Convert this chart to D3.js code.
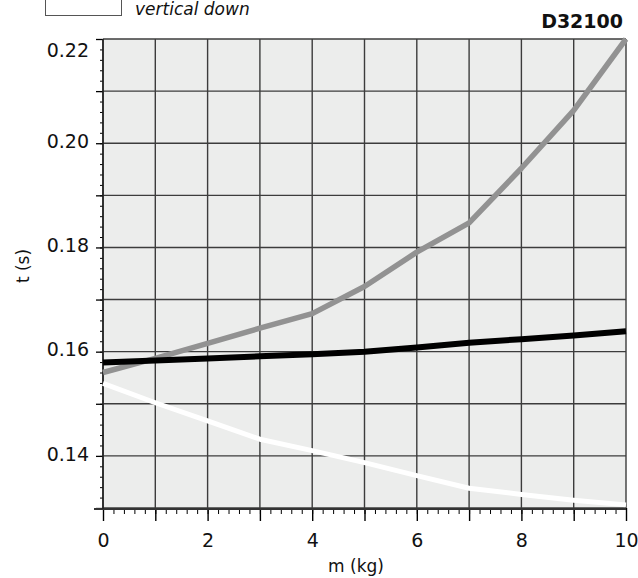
<!DOCTYPE html>
<html>
<head>
<meta charset="utf-8">
<script src="https://cdn.jsdelivr.net/npm/d3@7"></script>
<style>
	body { margin: 0; background: #fff; }
	svg { display: block; font-family: "DejaVu Sans", sans-serif; }
</style>
</head>
<body>
<svg id="chart"></svg>
<script>
// m (kg) at each reading
const masses = [0, 1, 2, 3, 4, 5, 6, 7, 8, 9, 10];

// t (s) for the three curves
const tGray  = [0.1560, 0.1587, 0.1616, 0.1645, 0.1673, 0.1725, 0.1791, 0.1847, 0.1952, 0.2063, 0.2200];
const tBlack = [0.1579, 0.1583, 0.1587, 0.1591, 0.1595, 0.1600, 0.1608, 0.1617, 0.1624, 0.1631, 0.1639];
const tWhite = [0.1539, 0.1502, 0.1467, 0.1432, 0.1410, 0.1387, 0.1362, 0.1338, 0.1326, 0.1315, 0.1306];

const xLabels = [0, 2, 4, 6, 8, 10];
const yLabels = [0.14, 0.16, 0.18, 0.20, 0.22];

const legendText = "vertical down";
const chartCode = "D32100";

class LineChart {
	constructor(_config) {
		this.config = {
			parentElement: _config.parentElement,
			containerWidth: _config.containerWidth || 638,
			containerHeight: _config.containerHeight || 578,
			margin: {top: 39, bottom: 70, right: 12, left: 103}
		}
		this.initVis();
	}

	initVis() {
		let vis = this;

		vis.width = vis.config.containerWidth - vis.config.margin.left - vis.config.margin.right;
		vis.height = vis.config.containerHeight - vis.config.margin.top - vis.config.margin.bottom;

		vis.svg = d3.select(vis.config.parentElement)
			.attr("width", vis.config.containerWidth)
			.attr("height", vis.config.containerHeight);

		vis.chart = vis.svg.append("g")
			.attr("transform", `translate(${vis.config.margin.left},${vis.config.margin.top})`);

		vis.x = d3.scaleLinear().domain([0, 10]).range([0, vis.width]);
		vis.y = d3.scaleLinear().domain([0.13, 0.22]).range([vis.height, 0]);

		vis.updateVis();
	}

	updateVis() {
		let vis = this;

		// plot background
		vis.chart.append("rect")
			.attr("width", vis.width)
			.attr("height", vis.height)
			.attr("fill", "#ecedec");

		// grid
		let grid = vis.chart.append("g")
			.attr("stroke", "#3c3c3c")
			.attr("stroke-width", 1.4);

		grid.selectAll(".vgrid")
			.data(d3.range(0, 11))
			.join("line")
			.attr("x1", d => vis.x(d))
			.attr("x2", d => vis.x(d))
			.attr("y1", 0)
			.attr("y2", vis.height);

		grid.selectAll(".hgrid")
			.data(d3.range(13, 23).map(d => d / 100))
			.join("line")
			.attr("x1", 0)
			.attr("x2", vis.width)
			.attr("y1", d => vis.y(d))
			.attr("y2", d => vis.y(d));

		// y axis: major ticks every 0.01, minor every 0.002
		let yAxis = vis.chart.append("g")
			.call(d3.axisLeft(vis.y)
				.tickValues(d3.range(65, 111).map(d => d / 500))
				.tickSize(3)
				.tickFormat(""));
		yAxis.select(".domain").remove();

		let yMajor = vis.chart.append("g")
			.call(d3.axisLeft(vis.y)
				.tickValues(d3.range(13, 23).map(d => d / 100))
				.tickSize(7)
				.tickPadding(7)
				.tickFormat(d => yLabels.some(v => Math.abs(v - d) < 1e-9) ? d3.format(".2f")(d) : ""));
		yMajor.select(".domain").remove();
		yMajor.selectAll("line").attr("stroke-width", 1.3);
		yMajor.selectAll("text")
			.attr("font-size", 19)
			.attr("font-family", "DejaVu Sans, sans-serif")
			.attr("fill", "#111")
			.attr("dy", "0.22em");
		// the top label sits a little lower
		yMajor.selectAll(".tick").filter(d => Math.abs(d - 0.22) < 1e-9).select("text")
			.attr("dy", "0.92em");

		// x axis: major ticks at integers, minor every 0.2
		let xAxis = vis.chart.append("g")
			.attr("transform", `translate(0,${vis.height})`)
			.call(d3.axisBottom(vis.x)
				.tickValues(d3.range(0, 51).map(d => d / 5))
				.tickSize(6)
				.tickFormat(""));
		xAxis.select(".domain").remove();

		let xMajor = vis.chart.append("g")
			.attr("transform", `translate(0,${vis.height})`)
			.call(d3.axisBottom(vis.x)
				.tickValues(d3.range(0, 11))
				.tickSize(13)
				.tickPadding(13)
				.tickFormat(d => xLabels.includes(d) ? d : ""));
		xMajor.select(".domain").remove();
		xMajor.selectAll("line").attr("stroke-width", 1.4);
		xMajor.selectAll("text")
			.attr("font-size", 19)
			.attr("font-family", "DejaVu Sans, sans-serif")
			.attr("fill", "#111");

		// axis lines
		vis.chart.append("line")
			.attr("x1", -9)
			.attr("x2", vis.width)
			.attr("y1", vis.height + 1)
			.attr("y2", vis.height + 1)
			.attr("stroke", "#333")
			.attr("stroke-width", 2.2);

		vis.chart.append("line")
			.attr("x1", 0)
			.attr("x2", 0)
			.attr("y1", 0)
			.attr("y2", vis.height + 1)
			.attr("stroke", "#222")
			.attr("stroke-width", 1.6);

		// curves
		vis.line = d3.line()
			.x(d => vis.x(d[0]))
			.y(d => vis.y(d[1]));

		let series = [
			{values: tWhite, color: "#ffffff", width: 5},
			{values: tGray, color: "#929292", width: 5.5},
			{values: tBlack, color: "#000000", width: 6}
		];

		vis.chart.selectAll(".curve")
			.data(series)
			.join("path")
			.attr("class", "curve")
			.attr("fill", "none")
			.attr("stroke", d => d.color)
			.attr("stroke-width", d => d.width)
			.attr("stroke-linejoin", "round")
			.attr("d", d => vis.line(masses.map((m, i) => [m, d.values[i]])));

		// axis titles
		vis.svg.append("text")
			.attr("transform", "translate(29,266) rotate(-90)")
			.attr("text-anchor", "middle")
			.attr("font-size", 17)
			.attr("fill", "#111")
			.text("t (s)");

		vis.svg.append("text")
			.attr("x", 356)
			.attr("y", 572)
			.attr("text-anchor", "middle")
			.attr("font-size", 17)
			.attr("fill", "#111")
			.text("m (kg)");

		// legend (box is cut by the top edge)
		vis.svg.append("rect")
			.attr("x", 45.5)
			.attr("y", -20)
			.attr("width", 76)
			.attr("height", 35.5)
			.attr("fill", "#fff")
			.attr("stroke", "#555")
			.attr("stroke-width", 1);

		vis.svg.append("text")
			.attr("x", 135)
			.attr("y", 15)
			.attr("font-size", 17)
			.attr("font-style", "italic")
			.attr("fill", "#111")
			.text(legendText);

		vis.svg.append("text")
			.attr("x", 623)
			.attr("y", 28)
			.attr("text-anchor", "end")
			.attr("font-size", 19)
			.attr("font-weight", "bold")
			.attr("fill", "#111")
			.text(chartCode);
	}
}

let chart = new LineChart({parentElement: "#chart", containerWidth: 638, containerHeight: 578});
</script>
</body>
</html>
